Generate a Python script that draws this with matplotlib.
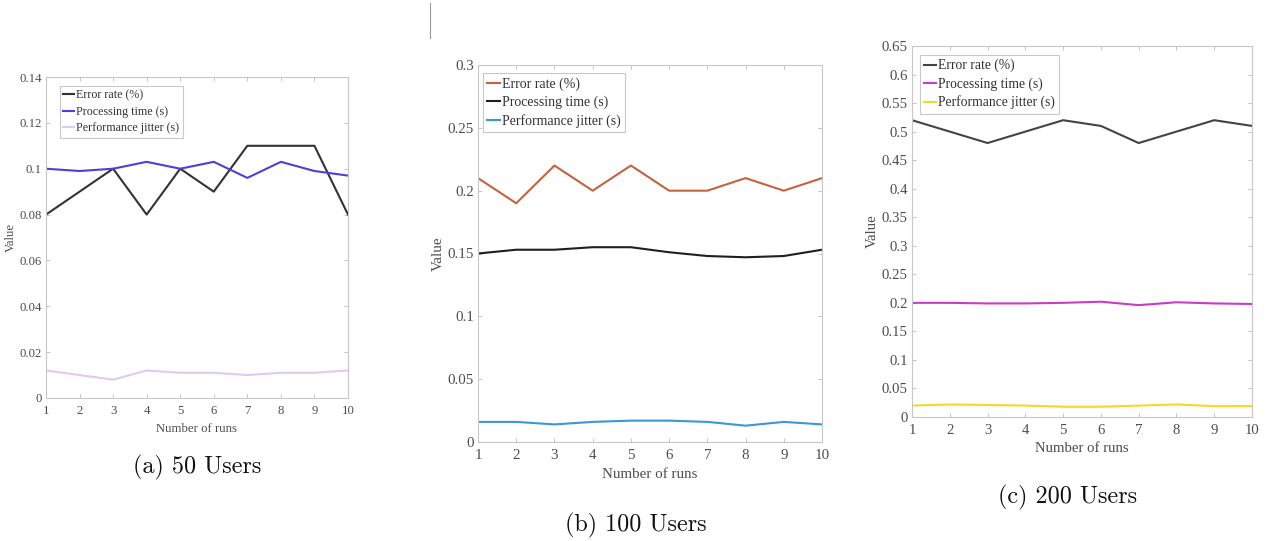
import numpy as np
import matplotlib
matplotlib.use("Agg")
import matplotlib.pyplot as plt
from matplotlib.lines import Line2D
from matplotlib.ticker import FuncFormatter

# donnees
runs = [1, 2, 3, 4, 5, 6, 7, 8, 9, 10]
labels = ["Error rate (%)", "Processing time (s)", "Performance jitter (s)"]

err_50 = [0.08, 0.09, 0.10, 0.08, 0.10, 0.09, 0.11, 0.11, 0.11, 0.08]
proc_50 = [0.100, 0.099, 0.100, 0.103, 0.100, 0.103, 0.096, 0.103, 0.099, 0.097]
jit_50 = [0.012, 0.010, 0.008, 0.012, 0.011, 0.011, 0.010, 0.011, 0.011, 0.012]

err_100 = [0.21, 0.19, 0.22, 0.20, 0.22, 0.20, 0.20, 0.21, 0.20, 0.21]
proc_100 = [0.150, 0.153, 0.153, 0.155, 0.155, 0.151, 0.148, 0.147, 0.148, 0.153]
jit_100 = [0.016, 0.016, 0.014, 0.016, 0.017, 0.017, 0.016, 0.013, 0.016, 0.014]

err_200 = [0.52, 0.50, 0.48, 0.50, 0.52, 0.51, 0.48, 0.50, 0.52, 0.51]
proc_200 = [0.200, 0.200, 0.199, 0.199, 0.200, 0.202, 0.196, 0.201, 0.199, 0.198]
jit_200 = [0.020, 0.022, 0.021, 0.020, 0.018, 0.018, 0.020, 0.022, 0.019, 0.019]

captions = ["(a) 50 Users", "(b) 100 Users", "(c) 200 Users"]

SERIF = "Liberation Serif"
TXT = "#4d4d4d"


def panel(fig, rect, series, colors, ymax, ystep, fs, leg_fs, leg_xy, caption, cap_xy):
    ax = fig.add_axes(rect)
    for vals, col, lab in zip(series, colors, labels):
        ax.plot(runs, vals, color=col, linewidth=1.5, label=lab)
    ax.set_xlim(1, 10)
    ax.set_ylim(0, ymax)
    ax.set_xticks(runs)
    ax.set_yticks(np.arange(0, ymax + ystep / 2, ystep))
    ax.yaxis.set_major_formatter(FuncFormatter(lambda v, p: f"{round(v, 4):g}"))
    ax.tick_params(direction="in", top=True, right=True, length=3, width=0.6,
                   color="#bbbbbb", labelcolor=TXT, labelsize=fs)
    ax.tick_params(axis="x", pad=5)
    ax.tick_params(axis="y", pad=3)
    for lab in ax.get_xticklabels() + ax.get_yticklabels():
        lab.set_fontfamily(SERIF)
    for s in ax.spines.values():
        s.set_color("#c8c8c8")
        s.set_linewidth(0.8)
    ax.set_xlabel("Number of runs", fontfamily=SERIF, fontsize=fs, color=TXT, labelpad=4)
    ax.set_ylabel("Value", fontfamily=SERIF, fontsize=fs, color=TXT, labelpad=2)
    leg = ax.legend(loc="upper left", bbox_to_anchor=leg_xy, prop={"family": SERIF, "size": leg_fs},
                    frameon=True, fancybox=False, handlelength=0.9, handletextpad=0.15,
                    labelspacing=0.35, borderpad=0.3, borderaxespad=0)
    leg.get_frame().set_edgecolor("#bbbbbb")
    leg.get_frame().set_linewidth(0.8)
    for t in leg.get_texts():
        t.set_color("#333333")
    fig.text(cap_xy[0], cap_xy[1], caption, fontfamily="cmr10", fontsize=17.4,
             ha="center", va="center", color="#111111")
    return ax


W, H = 1267, 541
fig = plt.figure(figsize=(W / 100, H / 100), dpi=100)

panel(fig, [46 / W, 1 - 398 / H, 302 / W, 321 / H],
      [err_50, proc_50, jit_50], ["#333333", "#4b40d8", "#dccbf3"],
      0.14, 0.02, 9.2, 8.65, (0.046, 0.972), captions[0], (197 / W, 1 - 467 / H))
panel(fig, [478 / W, 1 - 442 / H, 344 / W, 377 / H],
      [err_100, proc_100, jit_100], ["#c4633b", "#1f1f1f", "#3a98d8"],
      0.3, 0.05, 10.8, 10.0, (0.0145, 0.979), captions[1], (636 / W, 1 - 525 / H))
panel(fig, [912 / W, 1 - 417 / H, 340 / W, 371 / H],
      [err_200, proc_200, jit_200], ["#444444", "#c83cc8", "#f0da2a"],
      0.65, 0.05, 10.6, 9.8, (0.0235, 0.976), captions[2], (1068 / W, 1 - 497 / H))

# petit trait vertical en haut de la figure
fig.add_artist(Line2D([430 / W, 430 / W], [1 - 3 / H, 1 - 38 / H], color="#999999", linewidth=0.8))

fig.savefig("out.png", dpi=100)
